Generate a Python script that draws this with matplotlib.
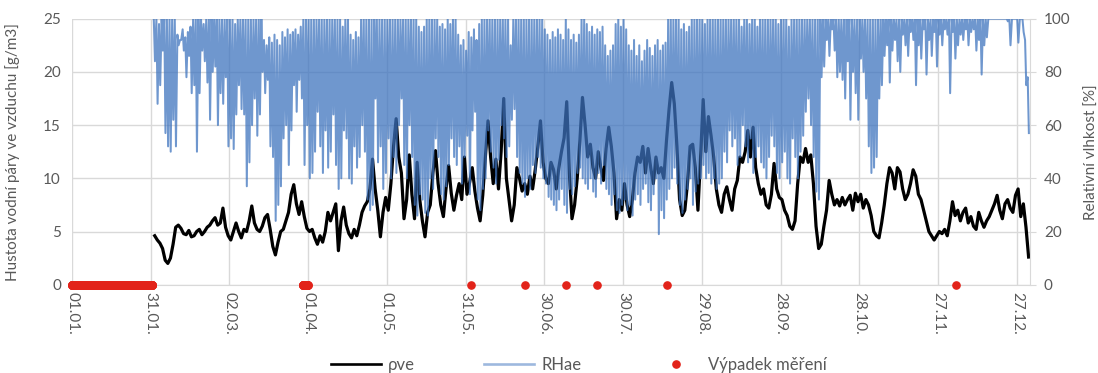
import numpy as np
import matplotlib
matplotlib.use('Agg')
import matplotlib.pyplot as plt
from matplotlib.lines import Line2D

plt.rcParams['font.family'] = ['Lato', 'DejaVu Sans']

# ---------------- data ----------------
start_day = 31  # first day with measurements (day index from 1 Jan = 0)

pve = [  # water vapour density [g/m3], one value per day
    4.6, 4.2, 3.9, 3.4, 2.3, 2.0, 2.5, 3.8, 5.4, 5.6,
    5.3, 4.8, 4.7, 5.1, 4.5, 4.6, 5.0, 5.2, 4.7, 5.0,
    5.4, 5.6, 6.0, 6.3, 5.6, 5.8, 7.2, 5.4, 4.6, 4.2,
    5.0, 5.8, 5.0, 4.4, 5.2, 5.0, 6.0, 7.4, 5.8, 5.2,
    5.0, 5.5, 6.3, 6.6, 5.2, 3.6, 2.8, 4.0, 5.0, 5.2,
    6.0, 6.8, 8.5, 9.4, 7.6, 6.6, 7.8, 6.4, 5.3, 5.0,
    5.2, 4.4, 3.8, 4.6, 4.0, 5.0, 6.8, 6.0,
    6.8, 7.6, 3.2, 6.0, 7.3, 5.6, 4.8, 4.4, 5.2, 4.6,
    5.6, 6.8, 7.4, 7.8, 9.0, 11.8, 9.0, 7.0, 4.5, 6.8,
    8.2, 7.0, 9.5, 13.0, 15.6, 12.0, 10.5, 6.2, 8.0, 12.2,
    8.5, 6.2, 11.5, 8.0, 6.0, 4.5, 6.8, 7.5, 10.5, 12.6,
    9.5, 7.5, 6.4, 9.0, 11.2, 8.6, 7.0, 8.4, 9.5, 8.0,
    12.0, 8.5, 9.6, 11.0, 8.8, 7.2, 6.0, 8.4, 12.0, 15.4,
    12.0, 9.5, 11.8, 9.0, 12.5, 17.5, 10.0, 8.0,
    6.0, 7.5, 11.0, 10.0, 8.8, 9.5, 8.5, 10.2, 9.0, 10.8,
    13.0, 15.4, 11.5, 10.0, 9.5, 11.5, 10.8, 9.0, 11.0, 12.5,
    13.8, 17.2, 10.5, 6.2, 7.5, 10.0, 13.5, 17.6, 15.0, 12.0,
    13.2, 11.0, 10.0, 12.5, 11.0, 9.8, 12.8, 14.8, 13.0, 10.5,
    6.2, 8.0, 7.0, 9.5, 7.5, 6.4, 8.0, 10.5, 12.0, 11.5,
    13.0, 10.5, 12.8, 11.0, 9.5, 12.0, 10.5, 11.0, 10.0, 13.5,
    16.5, 19.0, 17.0, 13.0, 8.0, 6.5, 7.0, 9.5, 13.0,
    13.2, 11.0, 7.0, 12.0, 17.4, 12.5, 15.8, 14.0, 12.0, 9.0,
    7.5, 6.8, 8.5, 9.2, 8.0, 7.0, 9.0, 9.8, 12.0, 11.5,
    12.5, 14.5, 12.0, 14.8, 11.0, 9.5, 8.5, 9.0, 7.5, 7.2,
    8.5, 11.4, 9.0, 8.2, 8.0, 7.0, 6.5, 5.5, 5.2, 6.0,
    9.5, 12.0, 11.5, 12.8, 11.5, 12.2, 9.5, 5.5, 3.4, 3.8,
    5.5, 7.0, 9.8, 8.5, 7.5, 8.0, 7.4, 8.2, 7.5, 8.0,
    8.4, 7.0, 8.6, 7.8, 8.5, 7.2, 8.0, 7.5, 6.5,
    5.0, 4.6, 4.4, 5.8, 7.5, 9.5, 11.0, 10.5, 9.0, 11.0,
    10.6, 9.0, 8.0, 8.5, 9.5, 10.8, 10.2, 8.5, 8.0, 7.0,
    6.0, 5.0, 4.6, 4.2, 4.6, 5.0, 4.8, 5.2, 4.6, 6.0,
    7.8, 6.5, 7.0, 6.0, 6.8, 7.2, 5.8, 6.4, 5.5, 5.2,
    6.8, 6.0, 5.4, 6.0, 6.4, 7.0, 7.6, 8.4, 7.0, 6.2,
    7.6, 8.0, 7.2, 6.8, 8.4, 9.0, 6.4, 7.6, 5.4, 2.6,
]

rh_max = [  # daily maximum of relative humidity [%]
    100, 100, 98, 100, 100, 100, 100, 100, 100, 94,
    92, 96, 93, 95, 97, 100, 100, 100, 100, 98,
    100, 100, 100, 100, 100, 100, 100, 100, 100, 100,
    100, 98, 100, 100, 100, 100, 100, 100, 100, 100,
    100, 100, 92, 90, 93, 91, 94, 92, 90, 95,
    93, 96, 94, 95, 96, 94, 97, 100, 100, 100,
    100, 100, 100, 100, 100, 100, 100, 100,
    100, 100, 100, 100, 97, 100, 100, 94, 92, 95,
    93, 100, 100, 100, 100, 100, 100, 100, 100, 100,
    100, 100, 100, 100, 100, 100, 100, 100, 100, 100,
    100, 100, 100, 97, 95, 97, 100, 100, 100, 100,
    100, 97, 98, 96, 100, 98, 100, 100, 94, 90,
    92, 88, 95, 93, 96, 92, 98, 100, 100, 100,
    100, 100, 100, 100, 100, 100, 100, 100,
    90, 100, 100, 100, 100, 100, 100, 100, 100, 100,
    100, 100, 100, 96, 94, 92, 95, 93, 96, 94,
    92, 100, 96, 92, 94, 91, 94, 100, 100, 98,
    95, 97, 94, 96, 95, 97, 90, 86, 88, 90,
    98, 100, 97, 100, 96, 90, 88, 92, 86, 90,
    84, 88, 92, 89, 86, 90, 92, 88, 90, 91,
    100, 100, 100, 100, 100, 96, 98, 95, 97,
    100, 100, 100, 100, 100, 98, 100, 100, 100, 100,
    100, 100, 100, 100, 100, 100, 100, 100, 100, 97,
    100, 100, 98, 100, 100, 97, 100, 100, 100, 100,
    100, 100, 100, 98, 100, 100, 100, 97, 100, 100,
    100, 100, 100, 100, 100, 100, 100, 100, 100, 100,
    100, 100, 100, 100, 100, 100, 100, 100, 100, 100,
    100, 100, 100, 100, 100, 100, 100, 100, 100,
    100, 100, 100, 100, 100, 100, 100, 100, 100, 100,
    100, 100, 100, 100, 100, 100, 100, 100, 100, 100,
    100, 100, 100, 100, 100, 100, 100, 100, 100, 100,
    100, 100, 100, 100, 100, 100, 100, 100, 100, 100,
    100, 100, 100, 100, 100, 100, 100, 100, 100, 100,
    100, 100, 100, 100, 100, 100, 100, 100, 92, 78,
]

rh_min = [  # daily minimum of relative humidity [%]
    84, 68, 75, 88, 57, 52, 50, 62, 52, 90,
    92, 88, 78, 86, 72, 75, 50, 72, 88, 84,
    76, 62, 80, 82, 60, 72, 68, 78, 52, 55,
    51, 64, 75, 66, 64, 37, 46, 60, 70, 56,
    64, 80, 72, 77, 52, 48, 24, 30, 37, 55,
    60, 45, 58, 75, 65, 77, 70, 45, 60, 40,
    42, 50, 65, 52, 42, 58, 44, 50,
    64, 45, 36, 40, 58, 55, 40, 38, 52, 44,
    48, 60, 50, 32, 28, 30, 70, 46, 52, 36,
    42, 55, 40, 48, 42, 60, 70, 45, 40, 60,
    48, 30, 26, 34, 32, 27, 26, 40, 36, 55,
    48, 34, 32, 37, 45, 55, 48, 45, 52, 38,
    48, 56, 34, 58, 65, 32, 28, 36, 40, 58,
    50, 44, 38, 47, 60, 55, 48, 52,
    62, 66, 48, 42, 38, 33, 40, 36, 45, 42,
    48, 44, 40, 38, 33, 32, 30, 28, 32, 36,
    30, 27, 36, 34, 37, 42, 44, 40, 38, 36,
    40, 35, 33, 42, 38, 45, 36, 34, 30, 34,
    28, 27, 30, 32, 28, 30, 26, 32, 34, 30,
    36, 38, 31, 28, 34, 40, 19, 28, 25, 32,
    36, 40, 44, 38, 30, 27, 32, 36, 40,
    30, 35, 38, 40, 45, 40, 42, 38, 40, 36,
    38, 40, 50, 46, 58, 52, 55, 45, 48, 60,
    52, 46, 55, 42, 48, 52, 46, 44, 40, 48,
    56, 52, 42, 40, 46, 50, 40, 38, 55, 48,
    40, 50, 56, 65, 70, 60, 48, 35, 32, 78,
    82, 92, 86, 96, 88, 78, 80, 77, 70, 84,
    62, 80, 72, 62, 85, 80, 70, 52, 42,
    44, 48, 70, 75, 86, 90, 76, 88, 92, 84,
    80, 94, 90, 86, 95, 92, 75, 90, 85, 96,
    79, 92, 86, 95, 82, 94, 90, 96, 94, 72,
    95, 85, 90, 94, 92, 96, 90, 95, 96, 88,
    92, 79, 90, 93, 100, 100, 100, 100, 100, 100,
    100, 99, 90, 100, 100, 91, 100, 95, 75, 57,
]

outage_ranges = [(0.0, 30.5), (88.0, 89.8)]        # days without data
outage_points = [151.9, 172.5, 188.4, 200.2, 226.8, 336.8]

tick_days = [0, 30, 60, 90, 120, 150, 180, 210, 240, 270, 300, 330, 360]
tick_labels = ['01.01.', '31.01.', '02.03.', '01.04.', '01.05.', '31.05.',
               '30.06.', '30.07.', '29.08.', '28.09.', '28.10.', '27.11.', '27.12.']

# ---------------- figure ----------------
GRID = '#d9d9d9'
TXT = '#595959'
BLUE = '#3d73be'
RED = '#e2231a'

fig = plt.figure(figsize=(10.98, 3.73), dpi=100)
ax = fig.add_axes([0.0656, 0.2367, 0.8724, 0.7132])
ax2 = ax.twinx()

days = start_day + np.arange(len(pve))
ax.plot(days + 0.5, pve, color='black', lw=2.3, zorder=3)

d_rh = start_day + np.arange(len(rh_max))
x_rh = np.column_stack([d_rh + 0.15, d_rh + 0.6]).ravel()
y_rh = np.column_stack([rh_max, rh_min]).ravel()
ax2.plot(x_rh, y_rh, color=BLUE, lw=1.45, alpha=0.74, zorder=3)

# outage markers
out_x = []
for a, b in outage_ranges:
    out_x.extend(np.arange(a, b + 1e-9, 1 / 24))
out_x.extend(outage_points)
ax.plot(out_x, np.zeros(len(out_x)), ls='none', marker='o', ms=5.2,
        color=RED, mec=RED, zorder=6, clip_on=False)

ax.set_xlim(0, 365)
ax.set_ylim(0, 25)
ax2.set_ylim(0, 100)
ax.set_yticks([0, 5, 10, 15, 20, 25])
ax2.set_yticks([0, 20, 40, 60, 80, 100])
ax.set_xticks(tick_days)
ax.set_xticklabels(tick_labels, rotation=270)

ax.grid(True, color=GRID, lw=1.0)
ax.set_axisbelow(True)
for s in ['top', 'right', 'left']:
    ax.spines[s].set_visible(False)
    ax2.spines[s].set_visible(False)
ax.spines['bottom'].set_color(GRID)
ax2.spines['bottom'].set_visible(False)
ax2.spines['right'].set_visible(True)
ax2.spines['right'].set_color(GRID)

ax.tick_params(axis='both', length=0, labelsize=11, labelcolor=TXT)
ax.tick_params(axis='x', pad=5)
ax.tick_params(axis='y', pad=8)
ax2.tick_params(axis='y', length=4, color=GRID, labelsize=11, labelcolor=TXT, pad=6)

ax.set_ylabel('Hustota vodní páry ve vzduchu [g/m3]', fontsize=11, color=TXT)
ax.yaxis.set_label_coords(-0.054, 0.5)
ax2.set_ylabel('Relativní vlhkost [%]', fontsize=11, color=TXT, rotation=90)
ax2.yaxis.set_label_coords(1.057, 0.5)

handles = [Line2D([], [], color='black', lw=1.9),
           Line2D([], [], color=BLUE, lw=1.9, alpha=0.5),
           Line2D([], [], color=RED, ls='none', marker='o', ms=5.2)]
labels = ['ρve', 'RHae', 'Výpadek měření']
leg = fig.legend(handles, labels, loc='center', bbox_to_anchor=(0.527, 0.022), ncol=3,
                 frameon=False, fontsize=12, handlelength=3.0, handletextpad=0.4,
                 columnspacing=4.2)
for t in leg.get_texts():
    t.set_color(TXT)

fig.savefig('out.png', dpi=100)
